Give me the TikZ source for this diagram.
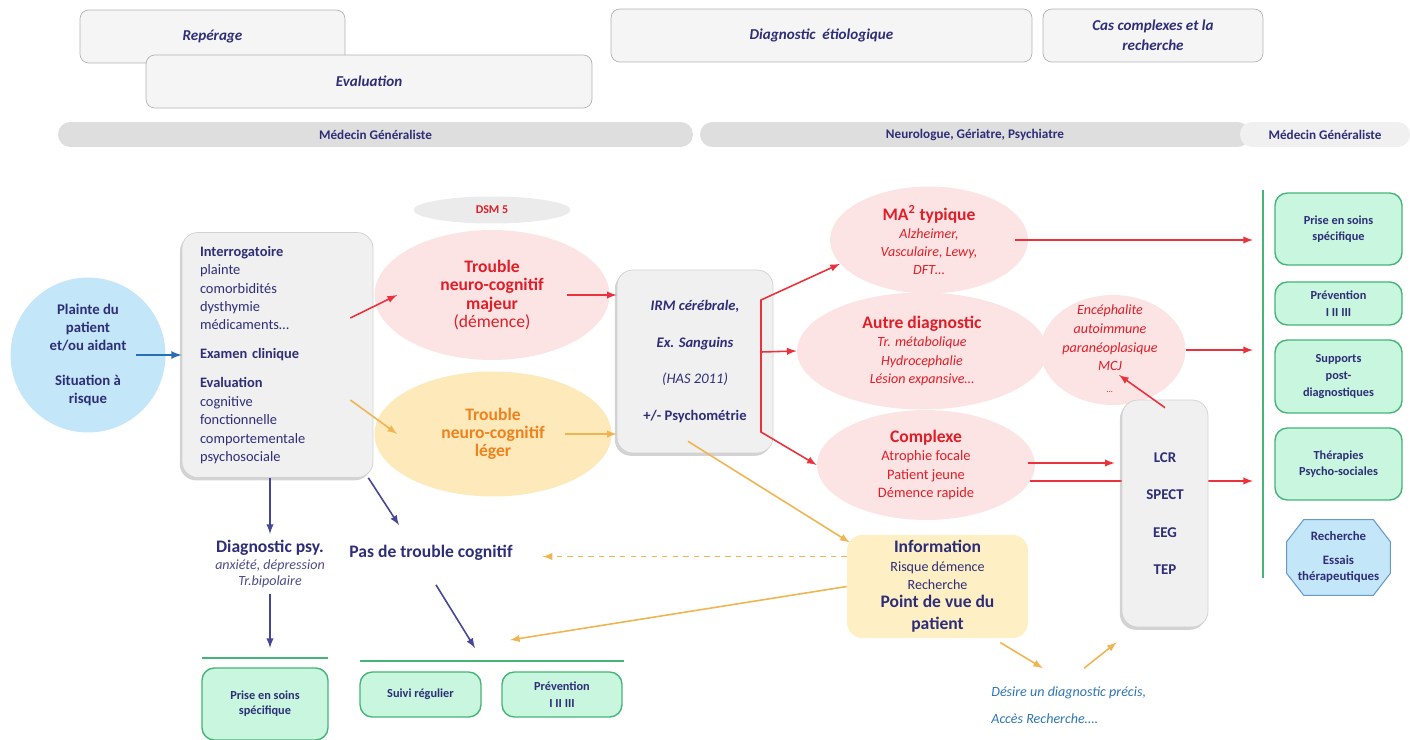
\documentclass[tikz,border=0pt]{standalone}
\usepackage{fontspec}
\setmainfont{Carlito}
\usepackage{tikz}
\usetikzlibrary{arrows,shapes,shadows}
\usepackage{xcolor}
\definecolor{navy}{RGB}{46,46,120}
\definecolor{myred}{RGB}{225,30,40}
\definecolor{arrred}{RGB}{235,50,60}
\definecolor{orangetxt}{RGB}{240,130,30}
\definecolor{arrorange}{RGB}{240,180,80}
\definecolor{pinkfill}{RGB}{252,228,228}
\definecolor{yellowfill}{RGB}{253,233,185}
\definecolor{infofill}{RGB}{254,240,196}
\definecolor{boxgrey}{RGB}{240,240,240}
\definecolor{greenfill}{RGB}{200,246,222}
\definecolor{greenline}{RGB}{70,180,120}
\definecolor{lightblue}{RGB}{195,230,248}
\definecolor{bluearr}{RGB}{40,110,180}
\definecolor{desireblue}{RGB}{46,117,182}
\definecolor{arrnavy}{RGB}{70,70,150}

\begin{document}
\begin{tikzpicture}[x=0.02cm, y=-0.02cm, >=latex,
  top box/.style={rounded corners=5pt, draw=black!30, fill=black!4, minimum height=1.06cm, align=center, text=navy, font=\fontsize{8.6}{11.3}\selectfont\bfseries\itshape},
  band/.style={rounded corners=7pt, fill=black!13, minimum height=0.5cm, text=navy, font=\fontsize{7.5}{9}\selectfont\bfseries},
  grey box/.style={rounded corners=9pt, draw=black!18, fill=boxgrey, drop shadow={shadow xshift=-1.2pt, shadow yshift=-1.6pt, opacity=0.35}},
  pink ell/.style={ellipse, fill=pinkfill, inner sep=0pt, text=myred, align=center},
  green box/.style={rounded corners=7pt, draw=greenline, fill=greenfill, line width=0.8pt, align=center, text=navy, font=\fontsize{7}{9.4}\selectfont\bfseries},
  green rule/.style={draw=greenline, line width=0.9pt},
  red arr/.style={->, draw=arrred, line width=0.9pt},
  orange arr/.style={->, draw=arrorange, line width=0.9pt},
  navy arr/.style={->, draw=arrnavy, line width=0.9pt},
  body/.style={font=\fontsize{8.2}{10.5}\selectfont}]
\useasboundingbox (0,0) rectangle (1410,740);

% bandeaux et etapes
\node[band, minimum width=12.7cm] (mg1) at (375.5,134.5) {Médecin Généraliste};
\node[band, minimum width=11cm] (neuro) at (975,134.5) {Neurologue, Gériatre, Psychiatre};
\node[band, fill=black!6, minimum width=3.4cm] (mg2) at (1325,134.5) {Médecin Généraliste};
\node[top box, minimum width=5.3cm] (rep) at (212.5,36.5) {Repérage};
\node[top box, minimum width=8.92cm] (eval) at (369,81.5) {Evaluation};
\node[top box, minimum width=8.42cm] (diag) at (821.5,35.5) {Diagnostic~ étiologique};
\node[top box, minimum width=4.4cm] (cas) at (1153,35.5) {Cas complexes et la\\recherche};

% gauche
\node[circle, fill=lightblue, minimum size=3.1cm, align=center, text=navy, font=\fontsize{8.4}{10.2}\selectfont\bfseries] (plainte) at (88,355) {Plainte du\\patient\\et/ou aidant\\[10pt]Situation à\\risque};
\node[grey box, body, minimum width=3.82cm, minimum height=4.9cm, text width=3.1cm, inner xsep=0.36cm, align=left, text=navy] (interro) at (277.5,355) {{\bfseries Interrogatoire}\\plainte\\comorbidités\\dysthymie\\médicaments…\\[6pt]{\bfseries Examen clinique}\\[6pt]{\bfseries Evaluation}\\cognitive\\fonctionnelle\\comportementale\\psychosociale};

% DSM 5
\node[ellipse, fill=black!8, minimum width=3.14cm, minimum height=0.54cm, inner sep=0pt, text=myred, font=\fontsize{6.8}{8}\selectfont\bfseries] (dsm) at (492,210) {DSM 5};
\node[pink ell, minimum width=4.7cm, minimum height=2.6cm, font=\fontsize{10}{10.4}\selectfont] (maj) at (492,295) {{\bfseries Trouble}\\{\bfseries neuro-cognitif}\\{\bfseries majeur}\\(démence)};
\node[ellipse, fill=yellowfill, minimum width=4.74cm, minimum height=2.5cm, inner sep=0pt, align=center, text=orangetxt, font=\fontsize{10}{10.4}\selectfont\bfseries] (leg) at (493,434) {Trouble\\neuro-cognitif\\léger};
\node[grey box, minimum width=3.12cm, minimum height=3.66cm, align=center, text=navy, font=\fontsize{8.3}{20.8}\selectfont] (irm) at (695,361.5) {{\bfseries\itshape IRM cérébrale,}\\{\bfseries\itshape Ex. Sanguins}\\{\itshape (HAS 2011)}\\{\bfseries +/- Psychométrie}};

% diagnostics
\node[pink ell, minimum width=3.96cm, minimum height=2.14cm, font=\fontsize{8}{10.2}\selectfont\itshape] (ma) at (929,240) {{\fontsize{10}{11}\selectfont\bfseries\upshape MA\textsuperscript{2} typique}\\Alzheimer,\\Vasculaire, Lewy,\\DFT…};
\node[pink ell, minimum width=2.9cm, minimum height=2.2cm] (enc) at (1113,350) {};
\node[pink ell, minimum width=5cm, minimum height=2.34cm, font=\fontsize{8}{10.6}\selectfont\itshape] (au) at (922,351) {{\fontsize{10}{11}\selectfont\bfseries\upshape Autre diagnostic}\\Tr. métabolique\\Hydrocephalie\\Lésion expansive…};
\node[align=center, text=myred, font=\fontsize{8}{10.6}\selectfont\itshape] (enctxt) at (1110,349) {Encéphalite\\autoimmune\\paranéoplasique\\MCJ\\[2pt]{\fontsize{5}{6}\selectfont …}};
\node[pink ell, minimum width=4.36cm, minimum height=2.2cm, font=\fontsize{8.2}{10.6}\selectfont] (cx) at (926,465) {{\fontsize{10}{11}\selectfont\bfseries Complexe}\\Atrophie focale\\Patient jeune\\Démence rapide};

% colonne droite
\coordinate (vl1) at (1263,190);
\coordinate (vl2) at (1263,578);
\draw[green rule] (vl1) -- (vl2);
\node[green box, minimum width=2.54cm, minimum height=1.44cm] (g1) at (1338.5,229) {Prise en soins\\spécifique};
\node[green box, minimum width=2.54cm, minimum height=0.86cm] (g2) at (1338.5,303.5) {Prévention\\I II III};
\node[green box, minimum width=2.54cm, minimum height=1.46cm] (g3) at (1338.5,376.5) {Supports\\post-\\diagnostiques};
\node[green box, minimum width=2.54cm, minimum height=1.44cm] (g4) at (1338.5,464) {Thérapies\\Psycho-sociales};
\node[minimum width=2.06cm, minimum height=1.5cm, inner sep=0pt] (rech) at (1338.5,557.5) {};
\draw[draw=bluearr!70, fill=lightblue, line width=0.6pt] ([xshift=0.34cm]rech.north west) -- ([xshift=-0.34cm]rech.north east) -- ([yshift=-0.44cm]rech.north east) -- ([yshift=0.44cm]rech.south east) -- ([xshift=-0.34cm]rech.south east) -- ([xshift=0.34cm]rech.south west) -- ([yshift=0.44cm]rech.south west) -- ([yshift=-0.44cm]rech.north west) -- cycle;
\node[align=center, text=navy, font=\fontsize{7.3}{9.6}\selectfont\bfseries] (rechtxt) at (1338.5,557) {Recherche\\[4pt]Essais\\thérapeutiques};

% ligne qui passe sous LCR
\draw[red arr, shorten >=0.2cm] ([shift={(-0.1cm,-0.32cm)}]cx.east) -- ([yshift=-0.32cm]cx.east -| vl1);
\node[grey box, minimum width=1.72cm, minimum height=4.54cm, align=center, text=navy, font=\fontsize{8.5}{21.2}\selectfont\bfseries] (lcr) at (1165,513.5) {LCR\\SPECT\\EEG\\TEP};

% information
\node[rounded corners=9pt, fill=infofill, minimum width=3.62cm, minimum height=2.06cm, align=center, text=navy, font=\fontsize{8}{10.4}\selectfont] (info) at (937.5,586.5) {{\fontsize{10}{11}\selectfont\bfseries Information}\\Risque démence\\Recherche\\{\fontsize{10}{11}\selectfont\bfseries Point de vue du}\\[2pt]{\fontsize{10}{11}\selectfont\bfseries patient}};
\node[anchor=west, inner sep=0pt, align=left, text=desireblue, font=\fontsize{8}{15.3}\selectfont\itshape] (desire) at (991,705) {Désire un diagnostic précis,\\Accès Recherche….};

% bas
\node[align=center, text=navy!85, font=\fontsize{8}{9.4}\selectfont\itshape] (dpsy) at (270,564) {{\fontsize{10}{11}\selectfont\bfseries\upshape\color{navy} Diagnostic psy.}\\anxiété, dépression\\Tr.bipolaire};
\node[text=navy, font=\fontsize{10}{11}\selectfont\bfseries] (pasde) at (431,553) {Pas de trouble cognitif};
\coordinate (r1a) at (202,658);
\coordinate (r1b) at (328,658);
\coordinate (r2a) at (360,661);
\coordinate (r2b) at (624,661);
\draw[green rule] (r1a) -- (r1b);
\draw[green rule] (r2a) -- (r2b);
\node[green box, minimum width=2.52cm, minimum height=1.44cm, font=\fontsize{7}{8.5}\selectfont\bfseries] (pes) at (265,704) {Prise en soins\\spécifique};
\node[green box, minimum width=2.42cm, minimum height=0.9cm] (suivi) at (420.5,694.5) {Suivi régulier};
\node[green box, minimum width=2.4cm, minimum height=0.9cm] (prev) at (562,694.5) {Prévention\\I II III};

% fleches
\draw[->, draw=bluearr, line width=1pt] ([xshift=-0.6cm]plainte.east) -- (interro.west);
\draw[red arr] ([shift={(-0.46cm,0.74cm)}]interro.east) -- ([xshift=0.46cm]maj.west);
\draw[orange arr] ([shift={(-0.46cm,-0.9cm)}]interro.east) -- ([xshift=0.46cm]leg.west);
\draw[red arr] ([xshift=-0.85cm]maj.east) -- (maj.east -| irm.west);
\draw[orange arr] ([xshift=-0.93cm]leg.east) -- (leg.east -| irm.west);
\coordinate (br1) at (761,300);
\coordinate (brm) at (761,352);
\coordinate (br2) at (761,432);
\draw[red arr, <->] (ma.195) -- (br1) -- (br2) -- (cx.west);
\draw[red arr] (brm) -- (au.west);
\draw[red arr, shorten >=0.2cm] ([xshift=-0.26cm]ma.east) -- (ma.east -| vl1);
\draw[red arr, shorten >=0.2cm] (enc.east) -- (enc.east -| vl1);
\draw[red arr, shorten >=0.14cm] ([shift={(-0.14cm,0.04cm)}]cx.east) -- ([yshift=0.04cm]cx.east -| lcr.west);
\draw[red arr] ([yshift=-0.16cm]lcr.north) -- ([shift={(0.12cm,-0.5cm)}]enc.center);
\draw[orange arr] ([shift={(-0.14cm,0.24cm)}]irm.south) -- ([shift={(0.06cm,-0.16cm)}]info.north west);
\draw[orange arr, dashed] ([yshift=0.6cm]info.west) -- ++(-304,0);
\draw[orange arr] (info.west) -- ([shift={(3cm,0.42cm)}]r2a);
\draw[orange arr] ([shift={(-0.56cm,-0.08cm)}]info.south east) -- ([shift={(1.04cm,0.36cm)}]desire.north west);
\draw[orange arr] ([shift={(1.86cm,0.36cm)}]desire.north west) -- ([shift={(-0.1cm,-0.3cm)}]lcr.south west);
\draw[navy arr] (interro.south -| dpsy) -- (dpsy.north);
\draw[navy arr] (dpsy.south) -- ([yshift=0.2cm]dpsy.south |- r1a);
\draw[navy arr] ([xshift=-0.1cm]interro.south east) -- ([shift={(-0.64cm,0.28cm)}]pasde.north);
\draw[navy arr] ([shift={(0.1cm,-0.36cm)}]pasde.south) -- ([shift={(2.3cm,0.26cm)}]r2a);
\end{tikzpicture}
\end{document}
